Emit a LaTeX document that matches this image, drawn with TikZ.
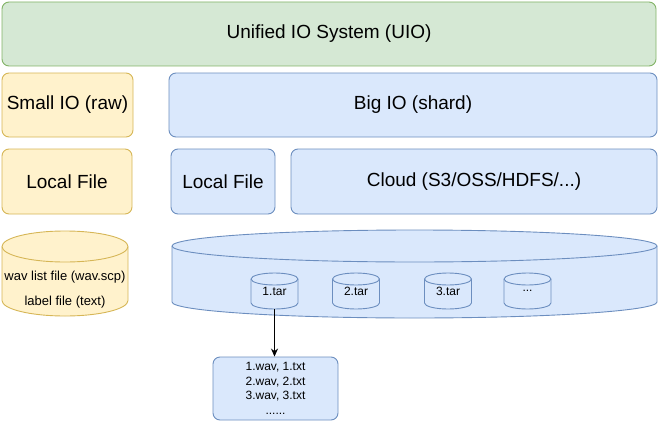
\documentclass[tikz,border=0pt]{standalone}
\usepackage{fontspec}
\setmainfont{Liberation Sans}
\usepackage{tikz}
\usepackage{xcolor}
\usetikzlibrary{shapes, positioning, arrows.meta}

\definecolor{uiogreen}{HTML}{D5E8D4}
\definecolor{uiogreenline}{HTML}{82B366}
\definecolor{rawyellow}{HTML}{FFF2CC}
\definecolor{rawyellowline}{HTML}{D6B656}
\definecolor{shardblue}{HTML}{DAE8FC}
\definecolor{shardblueline}{HTML}{6C8EBF}

\tikzset{
    box/.style={draw, rounded corners=7pt, line width=0.9pt, inner sep=0pt,
        font=\fontsize{19}{23}\selectfont},
    greenbox/.style={box, fill=uiogreen, draw=uiogreenline},
    yellowbox/.style={box, fill=rawyellow, draw=rawyellowline},
    bluebox/.style={box, fill=shardblue, draw=shardblueline},
    yellowdrum/.style={fill=rawyellow, draw=rawyellowline, line width=0.9pt},
    bluedrum/.style={fill=shardblue, draw=shardblueline, line width=0.9pt},
    tarlabel/.style={inner sep=0pt, minimum width=47pt, minimum height=36pt,
        font=\fontsize{12}{14}\selectfont}
}

% cylinder: style, left, right, top, bottom, y radius
\newcommand{\drum}[6]{%
    \pgfmathsetmacro\drumrx{(#3-#2)/2}%
    \draw[#1] (#2,#4-#6) -- (#2,#5+#6)
        arc[start angle=180, end angle=360, x radius=\drumrx, y radius=#6]
        -- (#3,#4-#6)
        arc[start angle=0, end angle=180, x radius=\drumrx, y radius=#6] -- cycle;
    \draw[#1, fill=none] (#2,#4-#6)
        arc[start angle=180, end angle=360, x radius=\drumrx, y radius=#6];
}

\begin{document}
\begin{tikzpicture}[x=1pt, y=1pt]
        \useasboundingbox (0, 0) rectangle (660, 424);

        % layers
        \node[greenbox, minimum width=654pt, minimum height=64pt] (uio) at (329, 390) {Unified IO System (UIO)};
        \node[yellowbox, minimum width=131pt, minimum height=64pt] (smallio) at (67.5, 319) {Small IO (raw)};
        \node[bluebox, minimum width=488pt, minimum height=64pt] (bigio) at (413, 319) {Big IO (shard)};
        \node[yellowbox, minimum width=130pt, minimum height=65pt] (rawlocal) at (67, 242.5) {Local File};
        \node[bluebox, minimum width=104pt, minimum height=65pt] (shardlocal) at (223, 242.5) {Local File};
        \node[bluebox, minimum width=366pt, minimum height=65pt] (cloud) at (474, 242.5) {Cloud (S3/OSS/HDFS/...)};

        % storage
        \drum{yellowdrum}{2}{128}{193}{108}{15.5}
        \node[align=center, font=\fontsize{13}{25}\selectfont] (rawlist) at (65, 134.5) {wav list file (wav.scp)\\label file (text)};

        \drum{bluedrum}{172}{657}{194}{106}{16}
        \drum{bluedrum}{251}{298}{151}{115}{6}
        \drum{bluedrum}{332.5}{379.5}{151}{115}{6}
        \drum{bluedrum}{424.5}{471.5}{151}{115}{6}
        \drum{bluedrum}{504}{551}{151}{115}{6}
        \node[tarlabel] (tar1) at (274.5, 133) {1.tar};
        \node[tarlabel] (tar2) at (356, 133) {2.tar};
        \node[tarlabel] (tar3) at (448, 133) {3.tar};
        \node[tarlabel] (tarmore) at (527.5, 133) {...};

        \node[bluebox, minimum width=125pt, minimum height=63pt, align=center,
            font=\fontsize{12}{14.5}\selectfont] (files) at (275.5, 35.5)
            {1.wav, 1.txt\\2.wav, 2.txt\\3.wav, 3.txt\\......};

        \draw[-{Stealth[length=8pt, width=7pt]}, line width=0.9pt] (tar1.south) to (tar1.south |- files.north);
    \end{tikzpicture}
\end{document}
